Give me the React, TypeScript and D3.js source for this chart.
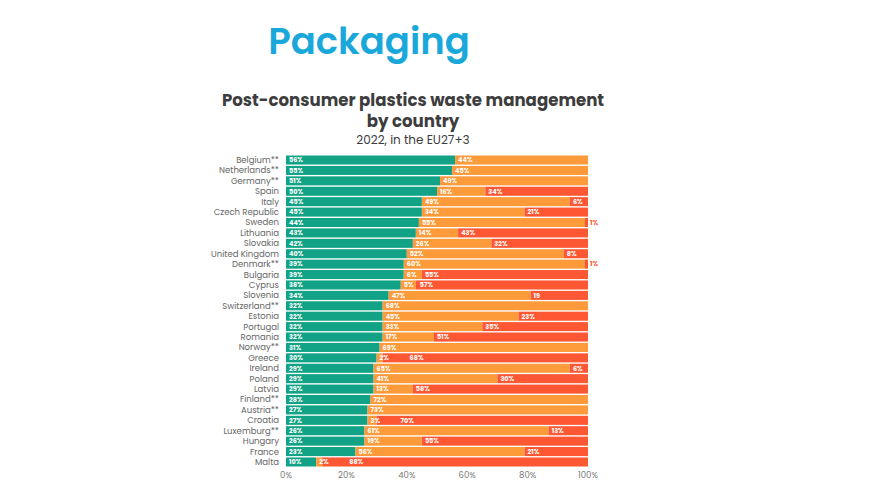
import React from "react";
import * as d3 from "d3";

const countries = ["Belgium**","Netherlands**","Germany**","Spain","Italy","Czech Republic","Sweden","Lithuania","Slovakia","United Kingdom","Denmark**","Bulgaria","Cyprus","Slovenia","Switzerland**","Estonia","Portugal","Romania","Norway**","Greece","Ireland","Poland","Latvia","Finland**","Austria**","Croatia","Luxemburg**","Hungary","France","Malta"];
const recycling = [56,55,51,50,45,45,44,43,42,40,39,39,38,34,32,32,32,32,31,30,29,29,29,28,27,27,26,26,23,10];
const energyRecovery = [44,45,49,16,49,34,55,14,26,52,60,6,5,47,68,45,33,17,69,2,65,41,13,72,73,3,61,19,56,2];
const landfill = [0,0,0,34,6,21,1,43,32,8,1,55,57,19,0,23,35,51,0,68,6,30,58,0,0,70,13,55,21,88];
const ticks = [0,20,40,60,80,100];

const colors = ["#12a386", "#fd9a3a", "#fe5734"];
const font = "Poppins, 'Noto Sans', 'Open Sans', sans-serif";

export default function App() {
  const x = d3.scaleLinear().domain([0, 100]).range([286, 588]);
  const y = d3.scaleBand<string>().domain(countries).range([155.5, 466.5]).paddingInner(0.13);
  const series = [recycling, energyRecovery, landfill];
  const h = y.bandwidth();

  const segs = countries.map((c, i) => {
    let acc = 0;
    let prevLabelX = -Infinity;
    let prevReserve = 0;
    return series.map((s, k) => {
      const v = s[i];
      const x0 = x(acc);
      acc += v;
      const x1 = x(acc);
      const outside = v === 1;
      const label = c === "Slovenia" && k === 2 ? "19" : `${v}%`;
      let lx = 0;
      if (v > 0) {
        lx = outside ? x1 + 2 : Math.max(x0 + 3, prevLabelX + prevReserve);
        prevLabelX = lx;
        prevReserve = v < 4 ? 30 : v < 10 ? 16 : 20;
      }
      return { c, k, v, x0, x1, lx, label, outside, yy: y(c)! };
    });
  });

  return (
    <svg width={875} height={500} style={{ position: "absolute", left: 0, top: 0, background: "#fff" }}>
      <text x={369} y={54} textAnchor="middle" fontFamily={font} fontSize={37} fontWeight={600} fill="#1aa8db">Packaging</text>
      <text x={413} y={106} textAnchor="middle" fontFamily={font} fontSize={16.6} fontWeight={700} fill="#3d3d3d">Post-consumer plastics waste management</text>
      <text x={413} y={127} textAnchor="middle" fontFamily={font} fontSize={16.6} fontWeight={700} fill="#3d3d3d">by country</text>
      <text x={413} y={144} textAnchor="middle" fontFamily={font} fontSize={12} fill="#3d3d3d">2022, in the EU27+3</text>

      {countries.map(c => (
        <text key={c} x={279} y={y(c)! + h / 2} dy="0.35em" textAnchor="end" fontFamily={font} fontSize={8.5} fill="#666">{c}</text>
      ))}

      {segs.flat().filter(d => d.v > 0).map(d => (
        <rect key={`r-${d.c}-${d.k}`} x={d.x0} y={d.yy} width={d.x1 - d.x0} height={h} fill={colors[d.k]} />
      ))}
      {segs.flat().filter(d => d.v > 0).map(d => (
        <text key={`t-${d.c}-${d.k}`} x={d.lx} y={d.yy + h / 2} dy="0.36em" fontFamily={font} fontSize={6.5} fontWeight={700} fill={d.outside ? colors[2] : "#fff"}>{d.label}</text>
      ))}

      {ticks.map(t => (
        <text key={t} x={x(t)} y={478} textAnchor="middle" fontFamily={font} fontSize={8.5} fill="#777">{t}%</text>
      ))}
    </svg>
  );
}
